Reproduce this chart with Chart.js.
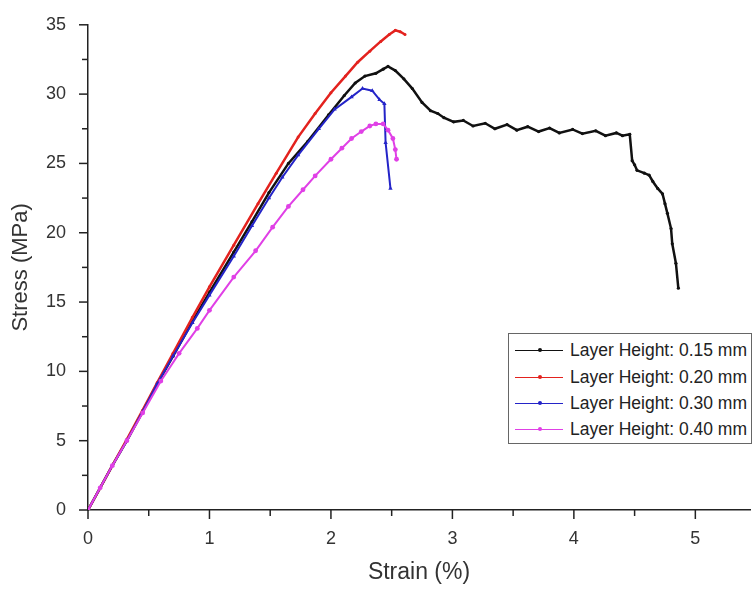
<!DOCTYPE html>
<html>
<head>
<meta charset="utf-8">
<script src="https://cdn.jsdelivr.net/npm/chart.js@4.4.0/dist/chart.umd.min.js"></script>
<style>
  body { margin: 0; background: #fff; }
  #wrap { position: relative; width: 754px; height: 590px; }
  #legend {
    position: absolute; left: 508px; top: 333px; width: 244px; height: 111px;
    border: 1px solid #666; box-sizing: border-box; background: #fff;
    font-family: "Liberation Sans", Arial, sans-serif; font-size: 17.5px; color: #222;
  }
  .row { position: absolute; left: 6px; height: 20px; display: flex; align-items: center; white-space: nowrap; }
  .swatch { position: relative; width: 48px; height: 1px; margin-right: 7px; }
  .swatch i { position: absolute; left: 23px; top: -1.5px; width: 4px; height: 4px; border-radius: 50%; }
</style>
</head>
<body>
<div id="wrap">
  <canvas id="stressChart" width="754" height="590"></canvas>
  <div id="legend"></div>
</div>
<script>
// Layer height 0.15 mm
const strain15 = [0, 0.1, 0.2, 0.32, 0.45, 0.57, 0.7, 0.86, 1.0, 1.2, 1.35, 1.49, 1.65, 1.81, 1.98, 2.11, 2.2, 2.28, 2.37, 2.43, 2.47, 2.53, 2.6, 2.67, 2.75, 2.82, 2.88, 2.93, 3.01, 3.09, 3.17, 3.27, 3.35, 3.45, 3.53, 3.62, 3.71, 3.8, 3.88, 3.99, 4.07, 4.18, 4.26, 4.35, 4.4, 4.46, 4.48, 4.5, 4.52, 4.58, 4.62, 4.65, 4.69, 4.73, 4.75, 4.77, 4.8, 4.81, 4.84, 4.86];
const stress15 = [0, 1.6, 3.2, 5.0, 7.1, 9.1, 11.1, 13.6, 15.7, 18.6, 20.8, 22.9, 25.0, 26.6, 28.5, 29.9, 30.8, 31.3, 31.5, 31.8, 32.0, 31.7, 31.1, 30.4, 29.4, 28.8, 28.6, 28.3, 28.0, 28.1, 27.7, 27.9, 27.5, 27.8, 27.4, 27.65, 27.3, 27.55, 27.2, 27.45, 27.15, 27.35, 27.0, 27.2, 27.0, 27.1, 25.2, 24.9, 24.5, 24.3, 24.15, 23.7, 23.2, 22.8, 22.1, 21.4, 20.3, 19.2, 17.8, 16.0];

// Layer height 0.20 mm
const strain20 = [0, 0.1, 0.2, 0.32, 0.45, 0.57, 0.7, 0.86, 1.0, 1.2, 1.4, 1.55, 1.73, 1.87, 2.0, 2.12, 2.22, 2.32, 2.41, 2.48, 2.53, 2.57, 2.61];
const stress20 = [0, 1.6, 3.2, 5.1, 7.2, 9.2, 11.3, 13.9, 16.1, 19.1, 22.1, 24.3, 26.9, 28.6, 30.1, 31.3, 32.3, 33.1, 33.8, 34.3, 34.6, 34.5, 34.3];

// Layer height 0.30 mm
const strain30 = [0, 0.1, 0.2, 0.32, 0.45, 0.57, 0.7, 0.86, 1.0, 1.2, 1.35, 1.49, 1.6, 1.73, 1.9, 2.03, 2.17, 2.26, 2.34, 2.4, 2.44, 2.45, 2.49];
const stress30 = [0, 1.6, 3.2, 5.0, 7.1, 9.1, 11.1, 13.5, 15.5, 18.3, 20.5, 22.5, 24.0, 25.6, 27.5, 28.9, 29.8, 30.4, 30.25, 29.6, 29.3, 26.5, 23.2];

// Layer height 0.40 mm
const strain40 = [0, 0.1, 0.2, 0.32, 0.45, 0.6, 0.75, 0.9, 1.0, 1.2, 1.38, 1.52, 1.65, 1.77, 1.87, 2.0, 2.09, 2.17, 2.25, 2.32, 2.37, 2.43, 2.47, 2.51, 2.53, 2.54];
const stress40 = [0, 1.6, 3.2, 5.0, 7.0, 9.3, 11.3, 13.1, 14.4, 16.8, 18.7, 20.4, 21.9, 23.1, 24.1, 25.3, 26.1, 26.8, 27.3, 27.7, 27.85, 27.85, 27.4, 26.8, 26.0, 25.3];

// axis ticks (labelled on whole numbers / multiples of 5)
const xTickValues = [0, 0.5, 1, 1.5, 2, 2.5, 3, 3.5, 4, 4.5, 5];
const yTickValues = [0, 2.5, 5, 7.5, 10, 12.5, 15, 17.5, 20, 22.5, 25, 27.5, 30, 32.5, 35];

const seriesLabels = ['Layer Height: 0.15 mm', 'Layer Height: 0.20 mm', 'Layer Height: 0.30 mm', 'Layer Height: 0.40 mm'];
const seriesColors = ['#111111', '#e3221e', '#2424c8', '#e040e6'];

const toPoints = (xs, ys) => xs.map((v, i) => ({ x: v, y: ys[i] }));
const isWhole = (v, step) => Math.abs(v / step - Math.round(v / step)) < 1e-6;

// tick marks drawn outward, longer on labelled ticks
const tickMarks = {
    id: 'tickMarks',
    afterDraw(chart) {
        const { ctx, scales: { x, y } } = chart;
        ctx.save();
        ctx.strokeStyle = '#222';
        ctx.lineWidth = 1.5;
        x.ticks.forEach(t => {
            const px = x.getPixelForValue(t.value);
            const len = isWhole(t.value, 1) ? 9 : 6;
            ctx.beginPath();
            ctx.moveTo(px, x.top);
            ctx.lineTo(px, x.top + len);
            ctx.stroke();
        });
        y.ticks.forEach(t => {
            const py = y.getPixelForValue(t.value);
            const len = isWhole(t.value, 5) ? 9 : 6;
            ctx.beginPath();
            ctx.moveTo(y.right, py);
            ctx.lineTo(y.right - len, py);
            ctx.stroke();
        });
        ctx.restore();
    }
};

const font = '"Liberation Sans", Arial, sans-serif';
const ctx = document.getElementById('stressChart').getContext('2d');
new Chart(ctx, {
    type: 'scatter',
    data: {
        datasets: [
            { label: seriesLabels[0], data: toPoints(strain15, stress15), borderColor: seriesColors[0], backgroundColor: seriesColors[0], borderWidth: 2.5, pointRadius: 1.6, pointStyle: 'circle', order: 4 },
            { label: seriesLabels[1], data: toPoints(strain20, stress20), borderColor: seriesColors[1], backgroundColor: seriesColors[1], borderWidth: 2.5, pointRadius: 1.5, pointStyle: 'circle', order: 3 },
            { label: seriesLabels[2], data: toPoints(strain30, stress30), borderColor: seriesColors[2], backgroundColor: seriesColors[2], borderWidth: 2, pointRadius: 2.5, pointStyle: 'triangle', order: 2 },
            { label: seriesLabels[3], data: toPoints(strain40, stress40), borderColor: seriesColors[3], backgroundColor: seriesColors[3], borderWidth: 2, pointRadius: 2.4, pointStyle: 'circle', order: 1 }
        ].map(d => Object.assign(d, { showLine: true, tension: 0, pointBorderWidth: 0 }))
    },
    options: {
        responsive: false,
        animation: false,
        layout: { padding: { top: 20, right: 0, left: 0, bottom: 0 } },
        plugins: { legend: { display: false }, tooltip: { enabled: false } },
        scales: {
            x: {
                type: 'linear', min: 0, max: 5.45,
                grid: { display: false },
                border: { color: '#222', width: 1.5 },
                afterBuildTicks: s => { s.ticks = xTickValues.map(v => ({ value: v })); },
                afterFit: s => { s.height = 80; },
                ticks: {
                    autoSkip: false, maxRotation: 0, padding: 10,
                    color: '#333', font: { family: font, size: 18 },
                    callback: v => isWhole(v, 1) ? Math.round(v) : ''
                },
                title: { display: true, text: 'Strain (%)', color: '#333', font: { family: font, size: 23 }, padding: { top: 10 } }
            },
            y: {
                type: 'linear', min: 0, max: 35,
                grid: { display: false },
                border: { color: '#222', width: 1.5 },
                afterBuildTicks: s => { s.ticks = yTickValues.map(v => ({ value: v })); },
                afterFit: s => { s.width = 88; },
                ticks: {
                    autoSkip: false, padding: 14,
                    color: '#333', font: { family: font, size: 18 },
                    callback: v => isWhole(v, 5) ? Math.round(v) : ''
                },
                title: { display: true, text: 'Stress (MPa)', color: '#333', font: { family: font, size: 22 }, padding: { top: 8, bottom: 4 } }
            }
        }
    },
    plugins: [tickMarks]
});

// legend box inside the plot
const legend = document.getElementById('legend');
const rowTops = [6, 33, 59, 85];
seriesLabels.forEach((label, i) => {
    const row = document.createElement('div');
    row.className = 'row';
    row.style.top = rowTops[i] + 'px';
    row.innerHTML = `<span class="swatch" style="background:${seriesColors[i]}"><i style="background:${seriesColors[i]}"></i></span><span>${label}</span>`;
    legend.appendChild(row);
});
</script>
</body>
</html>
